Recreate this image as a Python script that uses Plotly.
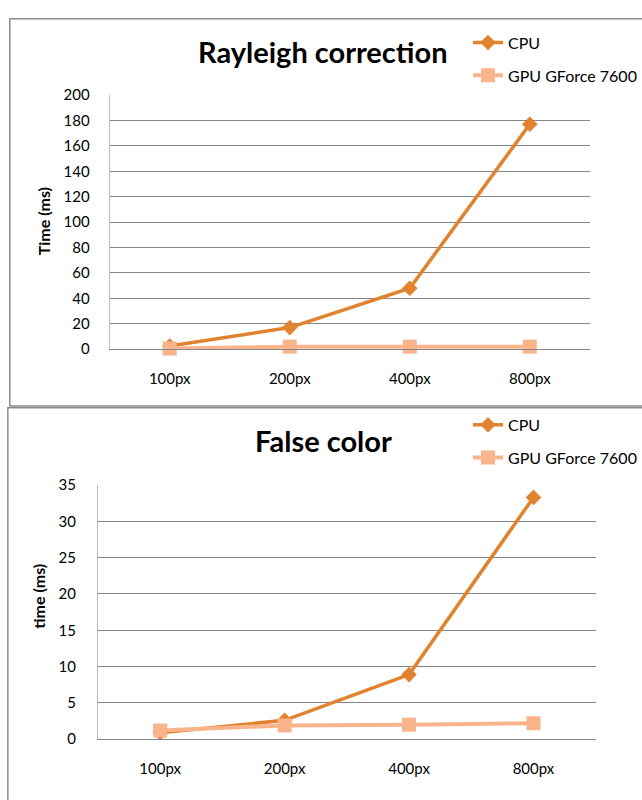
import plotly.graph_objects as go

categories = ["100px", "200px", "400px", "800px"]
series_names = ["CPU", "GPU GForce 7600"]

rayleigh_cpu = [2.5, 17, 48, 177]
rayleigh_gpu = [0.5, 2, 2, 2]
rayleigh_ticks = [0, 20, 40, 60, 80, 100, 120, 140, 160, 180, 200]

false_cpu = [0.9, 2.6, 8.9, 33.3]
false_gpu = [1.2, 1.9, 2.0, 2.2]
false_ticks = [0, 5, 10, 15, 20, 25, 30, 35]

W, H = 642, 800
CPU_COLOR = "#E1822F"
GPU_COLOR = "#F9B48B"
GRID = "#868686"
FONT = "Lato"


def px(x):
    return x / W


def py(y):
    return 1 - y / H


fig = go.Figure()

for ax, leg, cpu, gpu in [("", "legend", rayleigh_cpu, rayleigh_gpu),
                          ("2", "legend2", false_cpu, false_gpu)]:
    fig.add_trace(go.Scatter(
        x=categories, y=cpu, name=series_names[0], mode="lines+markers",
        line=dict(color=CPU_COLOR, width=3.5),
        marker=dict(symbol="diamond", size=12, color=CPU_COLOR),
        xaxis="x" + ax, yaxis="y" + ax, legend=leg, legendgroup="a" + ax,
        cliponaxis=False))
    fig.add_trace(go.Scatter(
        x=categories, y=gpu, name=series_names[1], mode="lines+markers",
        line=dict(color=GPU_COLOR, width=4),
        marker=dict(symbol="square", size=14, color=GPU_COLOR),
        xaxis="x" + ax, yaxis="y" + ax, legend=leg, legendgroup="b" + ax,
        cliponaxis=False))

xcommon = dict(type="category", range=[-0.5, 3.5], showgrid=False, showline=True,
               linecolor=GRID, linewidth=1, ticks="",
               tickfont=dict(family=FONT, size=15, color="#000"),
               ticklabelstandoff=16, zeroline=False, fixedrange=True)
ycommon = dict(showgrid=True, gridcolor=GRID, gridwidth=1, showline=True,
               linecolor="#BDBDBD", linewidth=1, ticks="",
               tickfont=dict(family=FONT, size=15, color="#000"),
               zeroline=False, fixedrange=True)

legcommon = dict(font=dict(family=FONT, size=16, color="#000"), bgcolor="rgba(0,0,0,0)",
                 traceorder="grouped", tracegroupgap=9, itemwidth=30,
                 xanchor="left", yanchor="top")

fig.update_layout(
    width=W, height=H,
    margin=dict(l=0, r=0, t=0, b=0),
    paper_bgcolor="white", plot_bgcolor="white",
    font=dict(family=FONT, color="#000"),
    xaxis=dict(domain=[px(112), px(602)], anchor="y", **xcommon),
    yaxis=dict(domain=[py(347), py(87)], anchor="x", range=[0, 200],
               tickvals=rayleigh_ticks, ticklabelstandoff=16, **ycommon),
    xaxis2=dict(domain=[px(100), px(608)], anchor="y2", **xcommon),
    yaxis2=dict(domain=[py(746), py(486)], anchor="x2", range=[0, 35],
                tickvals=false_ticks, ticklabelstandoff=18, **ycommon),
    legend=dict(x=px(478), y=py(16), **legcommon),
    legend2=dict(x=px(478), y=py(407), **legcommon),
    showlegend=True,
)

# chart borders
fig.add_shape(type="rect", xref="paper", yref="paper",
              x0=px(10), x1=px(700), y0=py(405), y1=py(9),
              line=dict(color="#8C8C8C", width=1.5))
fig.add_shape(type="rect", xref="paper", yref="paper",
              x0=px(8), x1=px(700), y0=py(860), y1=py(407),
              line=dict(color="#8C8C8C", width=1.5))

ann = dict(xref="paper", yref="paper", showarrow=False,
           xanchor="center", yanchor="middle")
# titles
fig.add_annotation(text="<b>Rayleigh correction</b>", x=px(330), y=py(42),
                   font=dict(family=FONT, size=29, color="#000"), **ann)
fig.add_annotation(text="<b>False color</b>", x=px(330), y=py(440),
                   font=dict(family=FONT, size=29, color="#000"), **ann)
# axis titles
fig.add_annotation(text="<b>Time (ms)</b>", x=px(44), y=py(216), textangle=-90,
                   font=dict(family=FONT, size=16, color="#000"), **ann)
fig.add_annotation(text="<b>time (ms)</b>", x=px(39), y=py(600), textangle=-90,
                   font=dict(family=FONT, size=16, color="#000"), **ann)

fig.write_html("out.html", config={"displayModeBar": False},
               post_script="document.body.style.margin='0';")
